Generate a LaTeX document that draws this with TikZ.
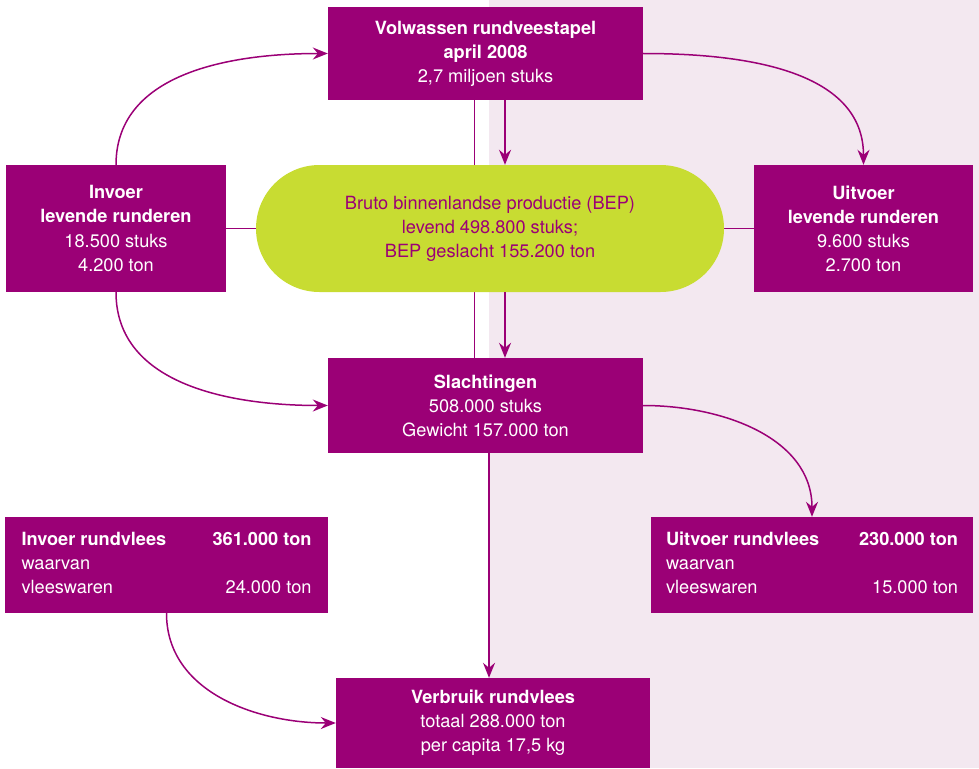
\documentclass[tikz,border=0pt]{standalone}
\usepackage{fontspec}
\setmainfont{TeX Gyre Heros}
\usetikzlibrary{arrows.meta,shapes.misc}
\definecolor{beef}{RGB}{155,0,118}
\definecolor{limegreen}{RGB}{200,220,50}
\definecolor{blush}{RGB}{243,232,240}
\pgfdeclarelayer{back}
\pgfdeclarelayer{wires}
\pgfsetlayers{back,wires,main}
\tikzset{
  magbox/.style={fill=beef, text=white, inner sep=0pt, align=center,
    font=\fontsize{18.2}{24}\selectfont},
  flow/.style={draw=beef, line width=1.5pt,
    -{Stealth[length=15pt,width=12pt,inset=5pt]}},
  wire/.style={draw=beef, line width=1.3pt},
}
\begin{document}
\begin{tikzpicture}[x=1pt,y=1pt]
      \useasboundingbox (0,0) rectangle (979,-768);
      \begin{pgfonlayer}{back}
        \fill[blush] (489,0) rectangle (979,-768);
      \end{pgfonlayer}
      \node[magbox, minimum width=315pt, minimum height=93pt] (vol) at (485.5,-53.5)
        {\textbf{Volwassen rundveestapel}\\\textbf{april 2008}\\2,7 miljoen stuks};
      \node[magbox, minimum width=220pt, minimum height=127pt] (invlev) at (116,-228.5)
        {\textbf{Invoer}\\\textbf{levende runderen}\\18.500 stuks\\4.200 ton};
      \node[magbox, rounded rectangle, fill=limegreen, text=beef,
        minimum width=468pt, minimum height=127pt] (bep) at (490,-228.5)
        {Bruto binnenlandse productie (BEP)\\levend 498.800 stuks;\\BEP geslacht 155.200 ton};
      \node[magbox, minimum width=219pt, minimum height=127pt] (uitlev) at (863.5,-228.5)
        {\textbf{Uitvoer}\\\textbf{levende runderen}\\9.600 stuks\\2.700 ton};
      \node[magbox, minimum width=315pt, minimum height=95pt] (slacht) at (485.5,-405.5)
        {\textbf{Slachtingen}\\508.000 stuks\\Gewicht 157.000 ton};
      \node[magbox, minimum width=323pt, minimum height=96pt] (invvl) at (166.5,-565)
        {\begin{tabular*}{290pt}{@{}l@{\extracolsep{\fill}}r@{}}
          \textbf{Invoer rundvlees} & \textbf{361.000 ton}\\
          waarvan & \\
          vleeswaren & 24.000 ton
        \end{tabular*}};
      \node[magbox, minimum width=322pt, minimum height=96pt] (uitvl) at (812,-565)
        {\begin{tabular*}{292pt}{@{}l@{\extracolsep{\fill}}r@{}}
          \textbf{Uitvoer rundvlees} & \textbf{230.000 ton}\\
          waarvan & \\
          vleeswaren & 15.000 ton
        \end{tabular*}};
      \node[magbox, minimum width=314pt, minimum height=90pt] (verbr) at (493,-723)
        {\textbf{Verbruik rundvlees}\\totaal 288.000 ton\\per capita 17,5 kg};
      % columns for the straight lines
      \coordinate (spine) at (474,0);
      \coordinate (rail) at (505,0);
      \coordinate (edge) at (489,0);
      \begin{pgfonlayer}{wires}
        \draw[wire, line width=1pt] (vol.south -| spine) -- (slacht.north -| spine);
        \draw[wire] (invlev.east) -- (uitlev.west);
      \end{pgfonlayer}
      \draw[flow] (invlev.north) to[out=90,in=180] (vol.west);
      \draw[flow] (vol.east) to[out=0,in=90] (uitlev.north);
      \draw[flow] (vol.south -| rail) -- (bep.north -| rail);
      \draw[flow] (bep.south -| rail) -- (slacht.north -| rail);
      \draw[flow] (invlev.south) to[out=-90,in=180] (slacht.west);
      \draw[flow] (slacht.east) to[out=0,in=90] (uitvl.north);
      \draw[flow] (slacht.south -| edge) -- (verbr.north -| edge);
      \draw[flow] (invvl.south) to[out=-90,in=180] (verbr.west);
    \end{tikzpicture}
\end{document}
